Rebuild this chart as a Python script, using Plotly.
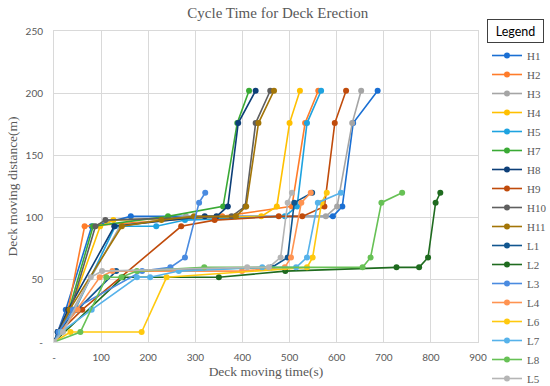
import plotly.graph_objects as go

series_names = ["H1", "H2", "H3", "H4", "H5", "H7", "H8", "H9", "H10", "H11",
                "L1", "L2", "L3", "L4", "L6", "L7", "L8", "L5"]
series_colors = ["#1a6fd3", "#ff7c2a", "#a5a5a5", "#ffc000", "#1ea3e0", "#3aaa35",
                 "#0d3f78", "#c04b0b", "#5f5f5f", "#a37507", "#11568f", "#1f6b1f",
                 "#4a8be0", "#ff9351", "#ffc90e", "#56b2ea", "#67c155", "#b5b5b5"]

h1_time = [0, 8, 25, 80, 163, 592, 612, 635, 687]
h1_dist = [0, 8, 26, 93, 101, 101, 109, 176, 202]
h2_time = [0, 8, 30, 65, 357, 505, 533, 561]
h2_dist = [0, 8, 26, 93, 101, 109, 176, 202]
h3_time = [0, 10, 40, 140, 280, 577, 601, 633, 652]
h3_dist = [0, 8, 26, 93, 101, 101, 109, 176, 202]
h4_time = [0, 10, 35, 98, 126, 440, 473, 500, 522]
h4_dist = [0, 8, 26, 93, 98, 101, 109, 176, 202]
h5_time = [0, 12, 45, 130, 217, 278, 490, 516, 537, 567]
h5_dist = [0, 8, 26, 93, 93, 98, 101, 109, 176, 202]
h7_time = [0, 10, 32, 83, 242, 359, 389, 414]
h7_dist = [0, 8, 26, 93, 101, 109, 176, 202]
h8_time = [0, 8, 30, 128, 320, 345, 369, 391, 428]
h8_dist = [0, 8, 26, 93, 101, 101, 109, 176, 202]
h9_time = [0, 12, 60, 270, 341, 477, 527, 574, 596, 620]
h9_dist = [0, 8, 26, 93, 98, 101, 101, 109, 176, 202]
h10_time = [0, 10, 35, 88, 109, 377, 406, 428, 459]
h10_dist = [0, 8, 26, 93, 98, 101, 109, 176, 202]
h11_time = [0, 12, 33, 144, 228, 297, 386, 408, 434, 467]
h11_dist = [0, 8, 26, 93, 98, 101, 101, 109, 176, 202]
l1_time = [0, 8, 50, 132, 462, 496, 510, 548]
l1_dist = [0, 8, 26, 57, 60, 68, 112, 120]
l2_time = [0, 146, 350, 491, 727, 775, 794, 810, 820]
l2_dist = [0, 52, 52, 57, 60, 60, 68, 112, 120]
l3_time = [0, 10, 40, 187, 247, 278, 308, 321]
l3_dist = [0, 8, 26, 57, 60, 68, 112, 120]
l4_time = [0, 15, 50, 97, 124, 399, 490, 503, 525, 545]
l4_dist = [0, 8, 26, 52, 57, 57, 60, 68, 112, 120]
l6_time = [0, 35, 186, 239, 537, 549, 568, 579]
l6_dist = [0, 8, 8, 52, 60, 68, 112, 120]
l7_time = [0, 15, 80, 176, 204, 265, 442, 514, 537, 560, 609]
l7_dist = [0, 8, 26, 52, 52, 57, 60, 60, 68, 112, 120]
l8_time = [0, 56, 111, 143, 176, 319, 655, 672, 695, 739]
l8_dist = [0, 8, 52, 52, 57, 60, 60, 68, 112, 120]
l5_time = [0, 19, 78, 102, 410, 456, 481, 496, 505]
l5_dist = [0, 8, 52, 57, 60, 60, 68, 112, 120]

x_tickvals = [0, 100, 200, 300, 400, 500, 600, 700, 800, 900]
x_ticktext = ["-", "100", "200", "300", "400", "500", "600", "700", "800", "900"]
y_tickvals = [0, 50, 100, 150, 200, 250]
y_ticktext = ["-", "50", "100", "150", "200", "250"]

all_series = [
    (h1_time, h1_dist), (h2_time, h2_dist), (h3_time, h3_dist), (h4_time, h4_dist),
    (h5_time, h5_dist), (h7_time, h7_dist), (h8_time, h8_dist), (h9_time, h9_dist),
    (h10_time, h10_dist), (h11_time, h11_dist), (l1_time, l1_dist), (l2_time, l2_dist),
    (l3_time, l3_dist), (l4_time, l4_dist), (l6_time, l6_dist), (l7_time, l7_dist),
    (l8_time, l8_dist), (l5_time, l5_dist),
]

W, H = 550, 386
ML, MR, MT, MB = 54, 72, 31, 44

fig = go.Figure()
for i, (name, color, (t, d)) in enumerate(zip(series_names, series_colors, all_series)):
    fig.add_trace(go.Scatter(
        x=t, y=d, name=name, mode="lines+markers",
        line=dict(color=color, width=1.6),
        marker=dict(color=color, size=6),
        legend="legend" if i < 8 else "legend2",
    ))

grid = "#d9d9d9"
tickfont = dict(family="Lato, Open Sans, sans-serif", size=10, color="#595959")
serif = "Liberation Serif, Times New Roman, serif"
legfont = dict(family=serif, size=11, color="#595959")
LEG_X = 487 / W

fig.update_layout(
    width=W, height=H,
    margin=dict(l=ML, r=MR, t=MT, b=MB, autoexpand=False),
    paper_bgcolor="white", plot_bgcolor="white",
    title=dict(text="Cycle Time for Deck Erection", x=0.505, xref="container",
               y=1 - 12.5 / H, yref="container", xanchor="center", yanchor="middle",
               font=dict(family=serif, size=15, color="#595959")),
    xaxis=dict(range=[0, 900], tickvals=x_tickvals, ticktext=x_ticktext,
               showgrid=True, gridcolor=grid, gridwidth=1, zeroline=False,
               showline=True, linecolor=grid, mirror=True,
               tickfont=tickfont, ticklabelstandoff=6,
               title=dict(text="Deck moving time(s)", standoff=4,
                          font=dict(family=serif, size=13.5, color="#595959"))),
    yaxis=dict(range=[0, 250], tickvals=y_tickvals, ticktext=y_ticktext,
               showgrid=True, gridcolor=grid, gridwidth=1, zeroline=False,
               showline=True, linecolor=grid, mirror=True,
               tickfont=tickfont, ticklabelstandoff=8,
               title=dict(text="Deck moving distance(m)", standoff=4,
                          font=dict(family=serif, size=13.5, color="#595959"))),
    legend=dict(xref="container", yref="container", x=LEG_X, y=1 - 41 / H,
                xanchor="left", yanchor="top", bgcolor="rgba(0,0,0,0)",
                font=legfont, itemwidth=30, tracegroupgap=0),
    legend2=dict(xref="container", yref="container", x=LEG_X, y=1 - 193 / H,
                 xanchor="left", yanchor="top", bgcolor="rgba(0,0,0,0)",
                 font=legfont, itemwidth=30, tracegroupgap=0),
    showlegend=True,
)

fig.add_annotation(
    text="Legend", xref="paper", yref="paper",
    x=(515.4 - ML) / (W - ML - MR), y=(H - MB - 31.3) / (H - MT - MB),
    xanchor="center", yanchor="middle", showarrow=False,
    font=dict(family="Lato, Open Sans, sans-serif", size=12.5, color="#000000"),
    bordercolor="#404040", borderwidth=1, borderpad=0, width=55, height=22,
    bgcolor="white",
)

fig.write_html("out.html", config={"displayModeBar": False},
               post_script="document.body.style.margin='0px';")
